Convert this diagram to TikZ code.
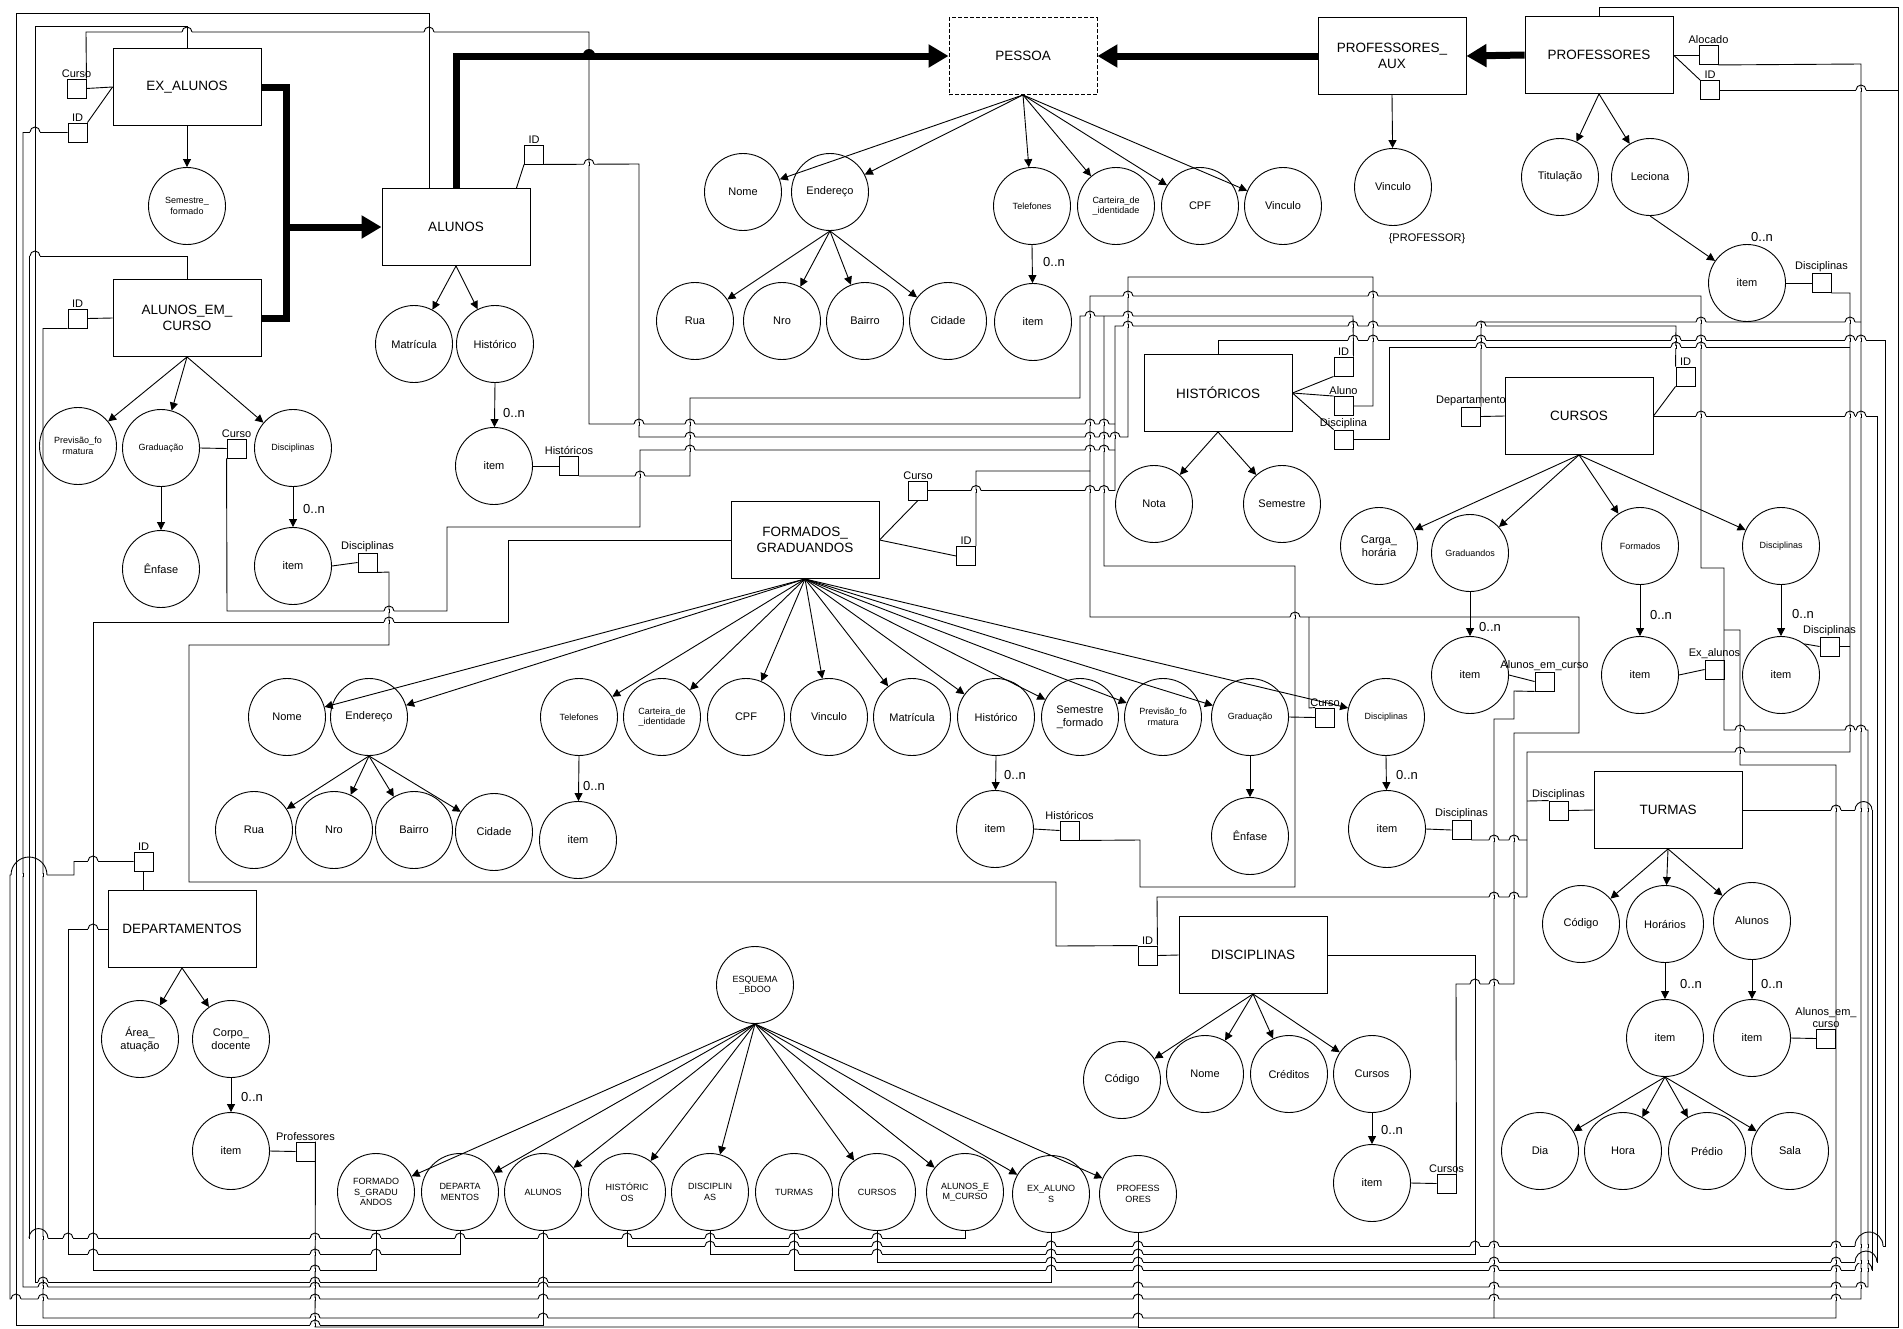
\documentclass[tikz,border=0pt]{standalone}
\usepackage{fontspec}
\setmainfont{Liberation Sans}
\usetikzlibrary{arrows.meta}

\begin{document}
\begin{tikzpicture}[
  x=1pt, y=-1pt,
  ent/.style={draw, line width=0.9pt, minimum width=148pt, minimum height=77pt, inner sep=2pt, align=center, font=\fontsize{13.5}{16}\selectfont},
  att/.style={draw, circle, line width=0.9pt, minimum size=77pt, inner sep=0pt, align=center, font=\fontsize{11}{13}\selectfont},
  satt/.style={att, font=\fontsize{9}{10.5}\selectfont},
  refbox/.style={draw, line width=0.9pt, minimum size=19pt, inner sep=0pt, label distance=0pt},
  lbl/.style={font=\fontsize{11}{12}\selectfont, inner sep=1pt, align=center},
  card/.style={font=\fontsize{13}{14}\selectfont, inner sep=0pt},
  arr/.style={line width=0.9pt, -{Triangle[length=8pt,width=8pt]}},
  isa/.style={line width=7pt, -{Triangle[length=20pt,width=22pt]}},
  wire/.style={line width=0.9pt}
]
\path[fill=white, use as bounding box] (0,0) rectangle (1903,1328);

\node[ent] (exalunos) at (187,87) {EX\_ALUNOS};
\node[ent] (aec) at (187,318) {ALUNOS\_EM\_\\CURSO};
\node[ent] (alunos) at (456,227) {ALUNOS};
\node[ent, dash pattern=on 4pt off 2pt] (pessoa) at (1023,56) {PESSOA};
\node[ent] (aux) at (1392,56) {PROFESSORES\_\\AUX};
\node[ent] (profs) at (1599,55) {PROFESSORES};
\node[ent] (hists) at (1218,393) {HISTÓRICOS};
\node[ent] (cursos) at (1579,416) {CURSOS};
\node[ent] (fg) at (805,540) {FORMADOS\_\\GRADUANDOS};
\node[ent] (turmas) at (1668,810) {TURMAS};
\node[ent] (discs) at (1253,955) {DISCIPLINAS};
\node[ent] (deps) at (182,929) {DEPARTAMENTOS};

\node[satt] (exsem) at (187,206) {Semestre\_\\formado};
\node[satt] (aeprev) at (78,446) {Previsão\_fo\\rmatura};
\node[satt] (aegrad) at (161,448) {Graduação};
\node[satt] (aedisc) at (293,448) {Disciplinas};
\node[att] (aeenf) at (161,569) {Ênfase};
\node[att] (aeitem) at (293,566) {item};
\node[att] (almatr) at (414,344) {Matrícula};
\node[att] (alhist) at (495,344) {Histórico};
\node[att] (alitem) at (494,466) {item};

\node[att] (penome) at (743,192) {Nome};
\node[att] (peend) at (830,192) {Endereço};
\node[att] (perua) at (695,321) {Rua};
\node[att] (penro) at (782,321) {Nro};
\node[att] (pebai) at (865,321) {Bairro};
\node[att] (pecid) at (948,321) {Cidade};
\node[satt] (petel) at (1032,206) {Telefones};
\node[satt] (pecart) at (1116,206) {Carteira\_de\\\_identidade};
\node[att] (pecpf) at (1200,206) {CPF};
\node[att] (pevin) at (1283,206) {Vinculo};
\node[att] (peitem) at (1033,322) {item};

\node[att] (axvin) at (1393,187) {Vinculo};
\node[lbl] (axnote) at (1427,239) {\{PROFESSOR\}};
\node[att] (prtit) at (1560,177) {Titulação};
\node[att] (prlec) at (1650,177) {Leciona};
\node[att] (pritem) at (1747,283) {item};

\node[att] (hinota) at (1154,504) {Nota};
\node[att] (hisem) at (1282,504) {Semestre};

\node[att] (cucarga) at (1379,546) {Carga\_\\horária};
\node[satt] (cugrad) at (1470,553) {Graduandos};
\node[satt] (cuform) at (1640,546) {Formados};
\node[satt] (cudisc) at (1781,546) {Disciplinas};
\node[att] (cugitem) at (1470,675) {item};
\node[att] (cufitem) at (1640,675) {item};
\node[att] (cuditem) at (1781,675) {item};

\node[att] (fgnome) at (287,717) {Nome};
\node[att] (fgend) at (369,717) {Endereço};
\node[satt] (fgtel) at (579,717) {Telefones};
\node[satt] (fgcart) at (662,717) {Carteira\_de\\\_identidade};
\node[att] (fgcpf) at (746,717) {CPF};
\node[att] (fgvin) at (829,717) {Vinculo};
\node[att] (fgmatr) at (912,717) {Matrícula};
\node[att] (fghist) at (996,717) {Histórico};
\node[att] (fgsem) at (1080,717) {Semestre\\\_formado};
\node[satt] (fgprev) at (1163,717) {Previsão\_fo\\rmatura};
\node[satt] (fggrad) at (1250,717) {Graduação};
\node[satt] (fgdisc) at (1386,717) {Disciplinas};
\node[att] (fgrua) at (254,830) {Rua};
\node[att] (fgnro) at (334,830) {Nro};
\node[att] (fgbai) at (414,830) {Bairro};
\node[att] (fgcid) at (494,832) {Cidade};
\node[att] (fgtitem) at (578,840) {item};
\node[att] (fghitem) at (995,829) {item};
\node[att] (fgenf) at (1250,836) {Ênfase};
\node[att] (fgditem) at (1387,829) {item};

\node[att] (tucod) at (1581,924) {Código};
\node[att] (tuhor) at (1665,924) {Horários};
\node[att] (tualu) at (1752,921) {Alunos};
\node[att] (tuhitem) at (1665,1038) {item};
\node[att] (tuaitem) at (1752,1038) {item};
\node[att] (tudia) at (1540,1151) {Dia};
\node[att] (tuhora) at (1623,1151) {Hora};
\node[att] (tupred) at (1707,1151) {Prédio};
\node[att] (tusala) at (1790,1151) {Sala};

\node[att] (dicod) at (1122,1080) {Código};
\node[att] (dinome) at (1205,1074) {Nome};
\node[att] (dicred) at (1289,1074) {Créditos};
\node[att] (dicur) at (1372,1074) {Cursos};
\node[att] (diitem) at (1372,1183) {item};

\node[att] (dearea) at (140,1039) {Área\_\\atuação};
\node[att] (decorpo) at (231,1039) {Corpo\_\\docente};
\node[att] (deitem) at (231,1151) {item};

\node[satt] (esq) at (755,985) {ESQUEMA\\\_BDOO};
\node[satt] (esfg) at (376,1192) {FORMADO\\S\_GRADU\\ANDOS};
\node[satt] (esdep) at (460,1192) {DEPARTA\\MENTOS};
\node[satt] (esal) at (543,1192) {ALUNOS};
\node[satt] (eshis) at (627,1192) {HISTÓRIC\\OS};
\node[satt] (esdis) at (710,1192) {DISCIPLIN\\AS};
\node[satt] (estur) at (794,1192) {TURMAS};
\node[satt] (escur) at (877,1192) {CURSOS};
\node[satt] (esaec) at (965,1192) {ALUNOS\_E\\M\_CURSO};
\node[satt] (esexa) at (1051,1194) {EX\_ALUNO\\S};
\node[satt] (espr) at (1138,1194) {PROFESS\\ORES};

\node[refbox, label={[lbl]above:Curso}] (rexcurso) at (76.5,88.5) {};
\node[refbox, label={[lbl]above:ID}] (rexid) at (77.5,132.5) {};
\node[refbox, label={[lbl]above:ID}] (raeid) at (77.5,318.5) {};
\node[refbox, label={[lbl]above:Curso}] (raecurso) at (236.5,448.5) {};
\node[refbox, label={[lbl]above:Disciplinas}] (raedisc) at (367.5,562.5) {};
\node[refbox, label={[lbl]above:ID}] (ralid) at (534,154.5) {};
\node[refbox, label={[lbl]above:Históricos}] (ralhist) at (569,466) {};
\node[refbox, label={[lbl]above:Alocado}] (rpraloc) at (1708.5,55) {};
\node[refbox, label={[lbl]above:ID}] (rprid) at (1710,90) {};
\node[refbox, label={[lbl]above:Disciplinas}] (rprdisc) at (1821.5,283) {};
\node[refbox, label={[lbl]above:ID}] (rhiid) at (1343.5,366.5) {};
\node[refbox, label={[lbl]above:Aluno}] (rhialuno) at (1343.5,406) {};
\node[refbox, label={[lbl]above:Disciplina}] (rhidisc) at (1343.5,439.5) {};
\node[refbox, label={[lbl]above:Departamento}] (rcudep) at (1471,416.5) {};
\node[refbox, label={[lbl]above:ID}] (rcuid) at (1685.5,376.5) {};
\node[refbox, label={[lbl]above:Alunos\_em\_curso}] (rcualu) at (1544.5,681.5) {};
\node[refbox, label={[lbl]above:Ex\_alunos}] (rcuexa) at (1714.5,669.5) {};
\node[refbox, label={[lbl]above:Disciplinas}] (rcudisc) at (1829.5,646.5) {};
\node[refbox, label={[lbl]above:Curso}] (rfgcurso) at (918,490.5) {};
\node[refbox, label={[lbl]above:ID}] (rfgid) at (966,556) {};
\node[refbox, label={[lbl]above:Históricos}] (rfghist) at (1069.5,830.5) {};
\node[refbox, label={[lbl]above:Curso}] (rfggcurso) at (1325,717.5) {};
\node[refbox, label={[lbl]above:Disciplinas}] (rfgdisc) at (1461.5,830) {};
\node[refbox, label={[lbl]above:Disciplinas}] (rtudisc) at (1558.5,810.5) {};
\node[refbox, label={[lbl]above:{Alunos\_em\_\\curso}}] (rtualu) at (1826,1038.5) {};
\node[refbox, label={[lbl]above:ID}] (rdiid) at (1147.5,955.5) {};
\node[refbox, label={[lbl]above:Cursos}] (rdicursos) at (1446.5,1183.5) {};
\node[refbox, label={[lbl]above:ID}] (rdeid) at (143.5,861.5) {};
\node[refbox, label={[lbl]above:Professores}] (rdeprof) at (305.5,1151.5) {};

\node[card] (ae0n) at (314,509) {0..n};
\node[card] (al0n) at (514,413) {0..n};
\node[card] (pe0n) at (1054,262) {0..n};
\node[card] (pr0n) at (1762,237) {0..n};
\node[card] (cug0n) at (1490,627) {0..n};
\node[card] (cuf0n) at (1661,615) {0..n};
\node[card] (cud0n) at (1803,614) {0..n};
\node[card] (fgt0n) at (594,786) {0..n};
\node[card] (fgh0n) at (1015,775) {0..n};
\node[card] (fgd0n) at (1407,775) {0..n};
\node[card] (tuh0n) at (1691,984) {0..n};
\node[card] (tua0n) at (1772,984) {0..n};
\node[card] (di0n) at (1392,1130) {0..n};
\node[card] (de0n) at (252,1097) {0..n};

\coordinate (jc1) at (1115,424);
\coordinate (jc2) at (1115,450);
\coordinate (jf1) at (1090,471);
\coordinate (jf2) at (1309,617);
\coordinate (jx1) at (1724,630);
\coordinate (ja1) at (1494,1318);
\coordinate (jd1) at (1527,840);
\coordinate (jd2) at (1527,801);
\coordinate (jd3) at (1850,646.5);
\coordinate (jd4) at (1850,347);
\coordinate (jh1) at (1104,316);
\coordinate (jp1) at (1898,90);
\coordinate (jp2) at (1138,1327);
\coordinate (jdp1) at (1861,322);

\draw[arr] (exalunos.south) -- (exsem);
\foreach \c in {aeprev,aegrad,aedisc} \draw[arr] (aec.south) -- (\c);
\draw[arr] (aegrad.south) -- (aeenf);
\draw[arr] (aedisc.south) -- (aeitem);
\foreach \c in {almatr,alhist} \draw[arr] (alunos.south) -- (\c);
\draw[arr] (alhist.south) -- (alitem);
\foreach \c in {penome,peend,petel,pecart,pecpf,pevin} \draw[arr] (pessoa.south) -- (\c);
\foreach \c in {perua,penro,pebai,pecid} \draw[arr] (peend.south) -- (\c);
\draw[arr] (petel.south) -- (peitem);
\draw[arr] (aux.south) -- (axvin);
\foreach \c in {prtit,prlec} \draw[arr] (profs.south) -- (\c);
\draw[arr] (prlec.south) -- (pritem);
\foreach \c in {hinota,hisem} \draw[arr] (hists.south) -- (\c);
\foreach \c in {cucarga,cugrad,cuform,cudisc} \draw[arr] (cursos.south) -- (\c);
\draw[arr] (cugrad.south) -- (cugitem);
\draw[arr] (cuform.south) -- (cufitem);
\draw[arr] (cudisc.south) -- (cuditem);
\foreach \c in {fgnome,fgend,fgtel,fgcart,fgcpf,fgvin,fgmatr,fghist,fgsem,fgprev,fggrad,fgdisc} \draw[arr] (fg.south) -- (\c);
\foreach \c in {fgrua,fgnro,fgbai,fgcid} \draw[arr] (fgend.south) -- (\c);
\draw[arr] (fgtel.south) -- (fgtitem);
\draw[arr] (fghist.south) -- (fghitem);
\draw[arr] (fggrad.south) -- (fgenf);
\draw[arr] (fgdisc.south) -- (fgditem);
\foreach \c in {tucod,tuhor,tualu} \draw[arr] (turmas.south) -- (\c);
\draw[arr] (tuhor.south) -- (tuhitem);
\draw[arr] (tualu.south) -- (tuaitem);
\foreach \c in {tudia,tuhora,tupred,tusala} \draw[arr] (tuhitem.south) -- (\c);
\foreach \c in {dicod,dinome,dicred,dicur} \draw[arr] (discs.south) -- (\c);
\draw[arr] (dicur.south) -- (diitem);
\foreach \c in {dearea,decorpo} \draw[arr] (deps.south) -- (\c);
\draw[arr] (decorpo.south) -- (deitem);
\foreach \c in {esfg,esdep,esal,eshis,esdis,escur,esaec,esexa,espr} \draw[arr] (esq.south) -- (\c);

\draw[line width=7pt] (exalunos.east) -| (286,318) -- (aec.east);
\draw[isa] (286,227) -- (alunos.west);
\draw[isa] (alunos.north) |- (pessoa.west);
\draw[isa] (aux.west) -- (pessoa.east);
\draw[isa] (profs.west) -- (aux.east);

\draw[wire] (rexcurso.east) -- (exalunos.west);
\draw[wire] (rexid.north east) -- (exalunos.west);
\draw[wire] (raeid.east) -- (aec.west);
\draw[wire] (aegrad.east) -- (raecurso.west);
\draw[wire] (aeitem.east) -- (raedisc.west);
\draw[wire] (ralid.south west) -- ([xshift=-14pt]alunos.north east);
\draw[wire] (alitem.east) -- (ralhist.west);
\draw[wire] (profs.east) -- (rpraloc.west);
\draw[wire] (profs.east) -- (rprid.north west);
\draw[wire] (pritem.east) -- (rprdisc.west);
\draw[wire] (hists.east) -- (rhiid.south west);
\draw[wire] (hists.east) -- (rhialuno.north west);
\draw[wire] (hists.east) -- (rhidisc.north west);
\draw[wire] (rcudep.east) -- (cursos.west);
\draw[wire] (cursos.east) -- (rcuid.south west);
\draw[wire] (cugitem.east) -- (rcualu.west);
\draw[wire] (cufitem.east) -- (rcuexa.west);
\draw[wire] (cuditem.53) -- (rcudisc.west);
\draw[wire] (fg.east) -- (rfgcurso.south);
\draw[wire] (fg.east) -- (rfgid.west);
\draw[wire] (fghitem.east) -- (rfghist.west);
\draw[wire] (fggrad.east) -- (rfggcurso.west);
\draw[wire] (fgditem.east) -- (rfgdisc.west);
\draw[wire] (rtudisc.east) -- (turmas.west);
\draw[wire] (tuaitem.east) -- (rtualu.west);
\draw[wire] (rdiid.east) -- (discs.west);
\draw[wire] (diitem.east) -- (rdicursos.west);
\draw[wire] (rdeid.south) -- (rdeid.south |- deps.north);
\draw[wire] (deitem.east) -- (rdeprof.west);

\draw[wire] (esal.south) -- (543,1325) -- (16,1325) -- (16,13) -- (429,13) -- ([xshift=-27pt]alunos.north);
\draw[wire] (esexa.south) -- (1051,1282) -- (35,1282) -- (35,26) -- (187,26) -- (exalunos.north);
\draw[wire] (esaec.south) -- (965,1238) -- (29,1238) -- (29,256) -- (187,256) -- (aec.north);
\draw[wire] (esfg.south) -- (376,1270) -- (93,1270) -- (93,622) -- (508,622) -- (508,540) -- (fg.west);
\draw[wire] (esdep.south) -- (460,1254) -- (68,1254) -- (68,929) -- (deps.west);
\draw[wire] (eshis.south) -- (627,1246) -- (1885,1246) -- (1885,340) -- (1218,340) -- (hists.north);
\draw[wire] (esdis.south) -- (710,1254) -- (1475,1254) -- (1475,955) -- (discs.east);
\draw[wire] (estur.south) -- (794,1270) -- (1872,1270) -- (1872,810) -- (turmas.east);
\draw[wire] (escur.south) -- (877,1262) -- (1877,1262) -- (1877,416) -- (cursos.east);
\draw[wire] (espr.south) -- (jp2) -- (1898,1327) -- (1898,7) -- (1599,7) -- (profs.north);
\draw[wire] (rprid.east) -- (jp1);
\draw[wire] (rdeprof.north east) -- (315,1327) -- (jp2);

\draw[wire] (rexid.west) -- (23,132.5) -- (23,1287) -- (1868,1287) -- (1868,730) -- (1724,730) -- (1724,568) -- (1701,568) -- (1701,296) -- (1090,296) -- (1090,617) -- (1579,617) -- (1579,733) -- (1514,733) -- (1514,984) -- (1456,984) -- (rdicursos.north east);
\draw[wire] (rfgid.north east) -- (976,471) -- (jf1);
\draw[wire] (rfggcurso.north west) -- (1309,708) -- (jf2);
\draw[wire] (raeid.south west) -- (43,328.5) -- (43,1318) -- (1836,1318) -- (1836,765) -- (1740,765) -- (1740,630) -- (jx1);
\draw[wire] (rcualu.south west) -- (1514,691) -- (1514,719) -- (1494,719) -- (ja1);
\draw[wire] (rdeid.west) -- (74,861.5) -- (74,875) -- (10,875) -- (10,1299) -- (1861,1299) -- (1861,64) -- (rpraloc.south east);
\draw[wire] (rcudep.north east) -- (1481,322) -- (jdp1);
\draw[wire] (raedisc.south east) -- (389,572) -- (389,645) -- (189,645) -- (189,882) -- (1056,882) -- (1056,946) -- (rdiid.north west);
\draw[wire] (rdiid.north east) -- (1157,897) -- (1527,897) -- (1527,752) -- (1850,752) -- (1850,293) -- (rprdisc.south east);
\draw[wire] (rfgdisc.south east) -- (jd1);
\draw[wire] (rtudisc.north west) -- (jd2);
\draw[wire] (rcudisc.east) -- (jd3);
\draw[wire] (rhidisc.east) -- (1389,439.5) -- (1389,347) -- (jd4);
\draw[wire] (ralhist.south east) -- (690,476) -- (690,398) -- (1080,398) -- (1080,316) -- (1353,316) -- (rhiid.north east);
\draw[wire] (rfghist.south east) -- (1140,840) -- (1140,887) -- (1295,887) -- (1295,566) -- (1104,566) -- (jh1);
\draw[wire] (ralid.south east) -- (639,164) -- (639,437) -- (1128,437) -- (1128,277) -- (1373,277) -- (1373,406) -- (rhialuno.east);
\draw[wire] (rcuid.north west) -- (1676,326) -- (1115,326) -- (1115,490.5) -- (rfgcurso.east);
\draw[wire] (rexcurso.north east) -- (86,32) -- (589,32) -- (589,424) -- (jc1);
\draw[wire] (raecurso.south west) -- (227,611) -- (447,611) -- (447,527) -- (640,527) -- (640,450) -- (jc2);

\foreach \x/\y in {315/1325, 43/1282, 315/1282, 543/1282,
  68/1238, 93/1238, 315/1238, 376/1238, 460/1238, 543/1238, 627/1238, 710/1238, 794/1238, 877/1238,
  35/256, 315/1270, 389/622, 93/1254, 315/1254, 376/1254, 93/929,
  710/1246, 794/1246, 877/1246, 1051/1246, 1138/1246, 1475/1246, 1494/1246, 1836/1246,
  794/1254, 877/1254, 1051/1254, 1138/1254,
  1051/1270, 1138/1270, 1494/1270, 1836/1270, 1836/810,
  1051/1262, 1138/1262, 1494/1262, 1836/1262,
  1701/416, 1850/416, 1861/416, 1861/90, 35/132,
  43/1287, 315/1287, 543/1287, 1138/1287, 1494/1287, 1836/1287, 1861/1287,
  1740/730, 1850/730, 1861/730, 1128/296, 1373/296, 1295/617, 1475/984, 1494/984,
  315/1318, 543/1318, 1138/1318, 93/861,
  16/1299, 43/1299, 315/1299, 543/1299, 1138/1299, 1494/1299, 1836/1299,
  1701/322, 1850/322, 1494/897, 1514/897, 1740/752, 1494/840, 1514/840,
  1481/347, 1676/347, 1701/347, 640/476, 1090/316, 1128/316, 589/164,
  690/437, 1090/437, 1104/437, 1115/437, 1128/326, 1353/326, 1373/326, 1481/326,
  976/490.5, 1090/490.5, 1104/490.5, 187/32, 429/32, 639/424, 690/424, 1090/424, 1104/424,
  389/611, 690/450, 1090/450, 1104/450,
  1353/340, 1373/340, 1481/340, 1676/340, 1701/340, 1850/340, 1861/340} {
  \fill[white] ({\x-5},{\y-1}) rectangle ({\x+5},{\y+1});
  \draw[wire] (\x,{\y-2}) -- (\x,{\y+2});
  \draw[wire] ({\x-5},\y) arc[start angle=180, end angle=0, radius=5pt];
}
\fill[white] (30,1237) rectangle (48,1239);
\foreach \x in {35,43} \draw[wire] (\x,1236) -- (\x,1240);
\draw[wire] (29,1238) arc[start angle=180, end angle=0, radius=9.5pt];
\fill[white] (11,874) rectangle (47,876);
\foreach \x in {16,23,29,35,43} \draw[wire] (\x,873) -- (\x,877);
\draw[wire] (11,875) arc[start angle=180, end angle=0, radius=18pt];
\fill[white] (1855,1245) rectangle (1883,1247);
\foreach \x in {1861,1868,1872,1877} \draw[wire] (\x,1244) -- (\x,1248);
\draw[wire] (1855,1246) arc[start angle=180, end angle=0, radius=14pt];
\foreach \y in {810,1270} {
  \fill[white] (1855,{\y-1}) rectangle (1872,{\y+1});
  \foreach \x in {1861,1868} \draw[wire] (\x,{\y-2}) -- (\x,{\y+2});
  \draw[wire] (1855,\y) arc[start angle=180, end angle=0, radius=8.5pt];
}
\fill[white] (1855,1261) rectangle (1877,1263);
\foreach \x in {1861,1868,1872} \draw[wire] (\x,1260) -- (\x,1264);
\draw[wire] (1855,1262) arc[start angle=180, end angle=0, radius=11pt];
\fill (583,55) arc[start angle=180, end angle=0, radius=6pt] -- cycle;
\end{tikzpicture}
\end{document}
